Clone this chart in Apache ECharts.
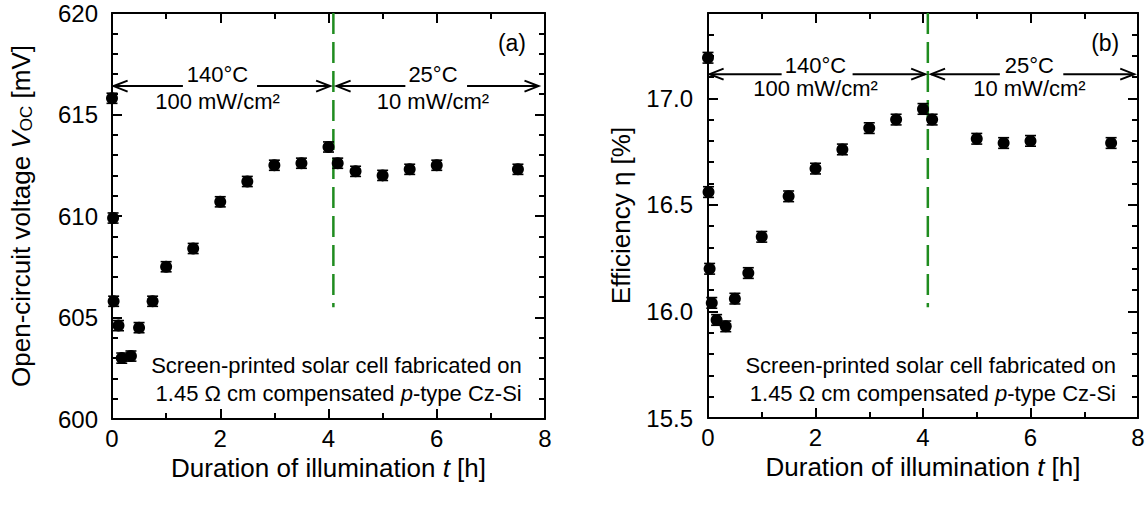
<!DOCTYPE html>
<html>
<head>
<meta charset="utf-8">
<script src="https://cdn.jsdelivr.net/npm/echarts@6/dist/echarts.min.js"></script>
<style>
  html, body { margin: 0; padding: 0; background: #fff; }
  #chart { width: 1148px; height: 509px; }
</style>
</head>
<body>
<div id="chart"></div>
<script>
// ---- measured data -------------------------------------------------------
// (a) open-circuit voltage vs illumination time
const timeA = [0, 0.02, 0.03, 0.12, 0.18, 0.35, 0.5, 0.75, 1.0, 1.5, 2.0, 2.5, 3.0, 3.5, 4.0, 4.17, 4.5, 5.0, 5.5, 6.0, 7.5];
const vocA  = [615.8, 609.9, 605.8, 604.6, 603.0, 603.1, 604.5, 605.8, 607.5, 608.4, 610.7, 611.7, 612.5, 612.6, 613.4, 612.6, 612.2, 612.0, 612.3, 612.5, 612.3];
const vocErr = 0.25;   // mV

// (b) efficiency vs illumination time
const timeB = [0, 0.01, 0.03, 0.07, 0.16, 0.33, 0.5, 0.75, 1.0, 1.5, 2.0, 2.5, 3.0, 3.5, 4.0, 4.17, 5.0, 5.5, 6.0, 7.5];
const effB  = [17.19, 16.56, 16.20, 16.04, 15.96, 15.93, 16.06, 16.18, 16.35, 16.54, 16.67, 16.76, 16.86, 16.90, 16.95, 16.90, 16.81, 16.79, 16.80, 16.79];
const effErr = 0.025;  // %

// time at which the conditions were switched
const switchTime = 4.09;

// axis ranges
const timeRange = [0, 8];
const vocRange = [600, 620];
const effRange = [15.5, 17.4];

// ---- styling helpers -----------------------------------------------------
const FONT = 'Liberation Sans, Arial, Helvetica, sans-serif';
const BLACK = '#000';
const GREEN = '#1f8c1f';

function axisSet(dim, grid, range, major, minor, label, nameOpts) {
  const sides = dim === 'x' ? ['bottom', 'top'] : ['left', 'right'];
  const out = [];
  sides.forEach((pos, s) => {
    const base = {
      type: 'value', gridIndex: grid, position: pos,
      min: range[0], max: range[1],
      splitLine: { show: false },
      axisPointer: { show: false }
    };
    const majorAxis = Object.assign({}, base, {
      interval: major,
      axisLine: { show: true, onZero: false, lineStyle: { color: BLACK, width: 2 } },
      axisTick: { show: true, inside: true, length: 10, lineStyle: { color: BLACK, width: 2 } },
      axisLabel: s === 0 ? label : { show: false }
    });
    if (s === 0 && nameOpts) Object.assign(majorAxis, nameOpts);
    const minorAxis = Object.assign({}, base, {
      interval: minor,
      axisLine: { show: false, onZero: false },
      axisTick: { show: true, inside: true, length: 6, lineStyle: { color: BLACK, width: 2 } },
      axisLabel: { show: false }
    });
    out.push(majorAxis, minorAxis);
  });
  return out;
}

const tickLabel = (extra) => Object.assign({
  show: true, color: BLACK, fontFamily: FONT, fontSize: 24
}, extra || {});

const xName = {
  name: 'Duration of illumination {i|t} [h]',
  nameLocation: 'middle', nameGap: 31,
  nameTextStyle: {
    color: BLACK, fontFamily: FONT, fontSize: 26,
    rich: { i: { fontStyle: 'italic', fontFamily: FONT, fontSize: 26, color: BLACK } }
  }
};

// ---- annotation drawing (arrows, divider, texts) ---------------------------
function annotationRenderer(p) {
  return function (params, api) {
    const c = (x, y) => api.coord([x, y]);
    const kids = [];
    const lineEl = (a, b, w) => ({
      type: 'line', shape: { x1: a[0], y1: a[1], x2: b[0], y2: b[1] },
      style: { stroke: BLACK, lineWidth: w || 2 }
    });
    const head = (tip, dir) => ({
      type: 'polyline',
      shape: { points: [[tip[0] - dir * 14, tip[1] - 5.5], tip, [tip[0] - dir * 14, tip[1] + 5.5]] },
      style: { stroke: BLACK, lineWidth: 2, fill: null }
    });
    const textEl = (x, y, text, size, align, rich) => {
      const pt = c(x, y);
      return {
        type: 'text', x: pt[0], y: pt[1],
        style: {
          text: text, fill: BLACK, fontFamily: FONT, fontSize: size,
          align: align || 'center', verticalAlign: 'middle', rich: rich
        }
      };
    };
    // switch-over marker
    const d0 = c(switchTime, p.dividerTop), d1 = c(switchTime, p.dividerBottom);
    kids.push({
      type: 'line', shape: { x1: d0[0], y1: d0[1], x2: d1[0], y2: d1[1] },
      style: { stroke: GREEN, lineWidth: 2.5, lineDash: [21, 8] }
    });
    // double-headed arrows with the condition labels
    p.arrows.forEach(a => {
      const L = c(a.from, p.level), R = c(a.to, p.level);
      const g0 = c(a.gap[0], p.level), g1 = c(a.gap[1], p.level);
      kids.push(lineEl(L, g0), lineEl(g1, R), head(L, -1), head(R, 1));
      kids.push(textEl(a.center, p.upperText, a.temp, 22));
      kids.push(textEl(a.center, p.lowerText, a.power, 22));
    });
    // panel tag
    kids.push(textEl(p.tag[0], p.tag[1], p.tag[2], 23));
    // sample description
    kids.push(textEl(p.noteX, p.note1, 'Screen-printed solar cell fabricated on', 22, 'right'));
    kids.push(textEl(p.noteX, p.note2, '1.45 \u03A9 cm compensated {i|p}-type Cz-Si', 22, 'right',
      { i: { fontStyle: 'italic', fontFamily: FONT, fontSize: 22, fill: BLACK } }));
    return { type: 'group', children: kids };
  };
}

function errorRenderer(err) {
  return function (params, api) {
    const x = api.value(0), y = api.value(1);
    const t = api.coord([x, y + err]), b = api.coord([x, y - err]);
    const hw = 5.5;
    const st = { stroke: BLACK, lineWidth: 1.6 };
    return {
      type: 'group', children: [
        { type: 'line', shape: { x1: t[0], y1: t[1], x2: b[0], y2: b[1] }, style: st },
        { type: 'line', shape: { x1: t[0] - hw, y1: t[1], x2: t[0] + hw, y2: t[1] }, style: st },
        { type: 'line', shape: { x1: b[0] - hw, y1: b[1], x2: b[0] + hw, y2: b[1] }, style: st }
      ]
    };
  };
}

const panelA = {
  dividerTop: 620, dividerBottom: 605.5,
  level: 616.4, upperText: 616.95, lowerText: 615.62,
  arrows: [
    { from: 0.03, to: 4.03, gap: [1.31, 2.68], center: 1.95, temp: '140\u00B0C', power: '100 mW/cm\u00B2' },
    { from: 4.15, to: 7.88, gap: [5.42, 6.56], center: 5.93, temp: '25\u00B0C', power: '10 mW/cm\u00B2' }
  ],
  tag: [7.39, 618.5, '(a)'],
  noteX: 7.57, note1: 602.66, note2: 601.28
};
const panelB = {
  dividerTop: 17.4, dividerBottom: 16.02,
  level: 17.113, upperText: 17.155, lowerText: 17.047,
  arrows: [
    { from: 0.03, to: 4.04, gap: [1.37, 2.69], center: 2.0, temp: '140\u00B0C', power: '100 mW/cm\u00B2' },
    { from: 4.15, to: 7.93, gap: [5.43, 6.61], center: 5.98, temp: '25\u00B0C', power: '10 mW/cm\u00B2' }
  ],
  tag: [7.39, 17.258, '(b)'],
  noteX: 7.59, note1: 15.748, note2: 15.617
};

// ---- axes ------------------------------------------------------------------
const xAxes = [].concat(
  axisSet('x', 0, timeRange, 2, 1, tickLabel({ margin: 7 }), xName),
  axisSet('x', 1, timeRange, 2, 1, tickLabel({ margin: 7 }), xName)
);
const yAxes = [].concat(
  axisSet('y', 0, vocRange, 5, 1, tickLabel({ margin: 14 }), {
    name: 'Open-circuit voltage {i|V}{s|OC} [mV]',
    nameLocation: 'middle', nameGap: 77, nameRotate: 90,
    nameTextStyle: {
      color: BLACK, fontFamily: FONT, fontSize: 26,
      rich: {
        i: { fontStyle: 'italic', fontFamily: FONT, fontSize: 26, color: BLACK },
        s: { fontFamily: FONT, fontSize: 17, color: BLACK, padding: [11, 0, 0, 0] }
      }
    }
  }),
  axisSet('y', 1, effRange, 0.5, 0.1, tickLabel({
    margin: 15, showMaxLabel: false, formatter: v => v.toFixed(1)
  }), {
    name: 'Efficiency \u03B7 [%]',
    nameLocation: 'middle', nameGap: 74, nameRotate: 90,
    nameTextStyle: { color: BLACK, fontFamily: FONT, fontSize: 26 }
  })
);

const pairs = (xs, ys) => xs.map((x, i) => [x, ys[i]]);

const option = {
  backgroundColor: '#fff',
  animation: false,
  grid: [
    { left: 112, top: 13, width: 433, height: 406, outerBoundsMode: 'none', containLabel: false },
    { left: 708, top: 13, width: 430, height: 405, outerBoundsMode: 'none', containLabel: false }
  ],
  xAxis: xAxes,
  yAxis: yAxes,
  series: [
    { type: 'custom', name: 'VocErr', xAxisIndex: 0, yAxisIndex: 0, silent: true, clip: false,
      data: pairs(timeA, vocA), renderItem: errorRenderer(vocErr), z: 3 },
    { type: 'scatter', name: 'Voc', xAxisIndex: 0, yAxisIndex: 0, data: pairs(timeA, vocA),
      symbol: 'circle', symbolSize: 12, itemStyle: { color: BLACK, opacity: 1 }, silent: true, z: 4 },
    { type: 'custom', name: 'notesA', xAxisIndex: 0, yAxisIndex: 0, silent: true, clip: false,
      data: [[0, 600]], renderItem: annotationRenderer(panelA), z: 2 },

    { type: 'custom', name: 'EffErr', xAxisIndex: 4, yAxisIndex: 4, silent: true, clip: false,
      data: pairs(timeB, effB), renderItem: errorRenderer(effErr), z: 3 },
    { type: 'scatter', name: 'Efficiency', xAxisIndex: 4, yAxisIndex: 4, data: pairs(timeB, effB),
      symbol: 'circle', symbolSize: 12, itemStyle: { color: BLACK, opacity: 1 }, silent: true, z: 4 },
    { type: 'custom', name: 'notesB', xAxisIndex: 4, yAxisIndex: 4, silent: true, clip: false,
      data: [[0, 15.5]], renderItem: annotationRenderer(panelB), z: 2 }
  ]
};

const chart = echarts.init(document.getElementById('chart'), null, { renderer: 'svg' });
chart.setOption(option);
</script>
</body>
</html>
